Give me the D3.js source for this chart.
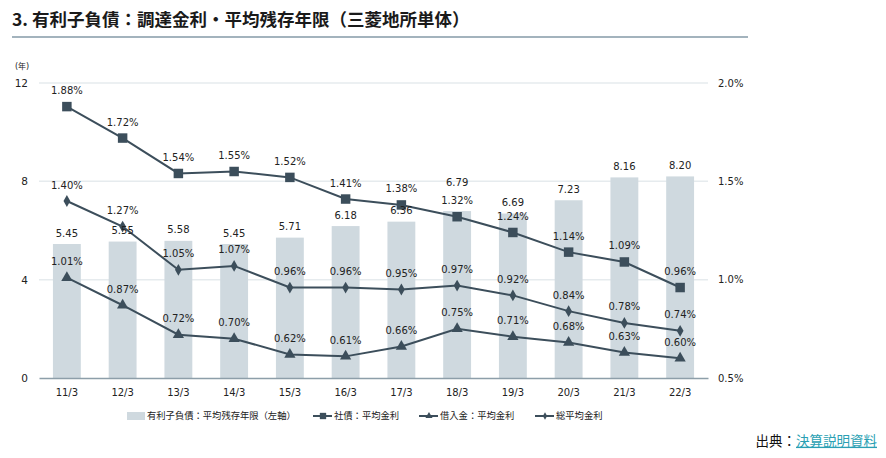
<!DOCTYPE html>
<html>
<head>
<meta charset="utf-8">
<script src="https://cdn.jsdelivr.net/npm/d3@7"></script>
<style>
  body { margin: 0; background: #fff; }
  text { font-family: "DejaVu Sans", "Noto Sans CJK JP", sans-serif; fill: #222; }
  .jp { font-family: "Noto Sans CJK JP", sans-serif; }
</style>
</head>
<body>
<script>
var categories = ["11/3", "12/3", "13/3", "14/3", "15/3", "16/3", "17/3", "18/3", "19/3", "20/3", "21/3", "22/3"];
var yearsLeft = [5.45, 5.55, 5.58, 5.45, 5.71, 6.18, 6.36, 6.79, 6.69, 7.23, 8.16, 8.20];
var bondRate = [1.88, 1.72, 1.54, 1.55, 1.52, 1.41, 1.38, 1.32, 1.24, 1.14, 1.09, 0.96];
var loanRate = [1.01, 0.87, 0.72, 0.70, 0.62, 0.61, 0.66, 0.75, 0.71, 0.68, 0.63, 0.60];
var totalRate = [1.40, 1.27, 1.05, 1.07, 0.96, 0.96, 0.95, 0.97, 0.92, 0.84, 0.78, 0.74];
var leftTicks = [0, 4, 8, 12];
var rightTicks = [0.5, 1.0, 1.5, 2.0];

var W = 886, H = 458;
var plotLeft = 39, plotRight = 708, plotTop = 83, plotBottom = 378;
var lineColor = "#3c4e5b";

var svg = d3.select("body").append("svg")
    .attr("width", W)
    .attr("height", H);

// title
svg.append("text")
    .attr("class", "jp")
    .attr("x", 12).attr("y", 26)
    .attr("font-size", 17.5)
    .attr("font-weight", "bold")
    .style("fill", "#1a1a1a")
    .text("3. 有利子負債：調達金利・平均残存年限（三菱地所単体）");
svg.append("line")
    .attr("x1", 12).attr("x2", 748)
    .attr("y1", 37).attr("y2", 37)
    .attr("stroke", "#a3b3bd")
    .attr("stroke-width", 2);

var x = d3.scaleBand()
    .domain(categories)
    .range([plotLeft, plotRight])
    .paddingInner(0.5)
    .paddingOuter(0.25);

var yL = d3.scaleLinear().domain([0, 12]).range([plotBottom, plotTop]);
var yR = d3.scaleLinear().domain([0.5, 2.0]).range([plotBottom, plotTop]);

function cx(c) { return x(c) + x.bandwidth() / 2; }

// grid
svg.append("g").selectAll("line")
    .data(leftTicks.slice(1))
    .join("line")
    .attr("x1", plotLeft).attr("x2", plotRight)
    .attr("y1", function(d) { return yL(d); })
    .attr("y2", function(d) { return yL(d); })
    .attr("stroke", "#e6ebee")
    .attr("stroke-width", 1.5);

// left axis
var axL = svg.append("g")
    .attr("transform", "translate(" + plotLeft + ",0)")
    .call(d3.axisLeft(yL).tickValues(leftTicks).tickSize(0).tickPadding(11));
axL.select(".domain").remove();
axL.selectAll("text").attr("font-size", 10.5).style("fill", "#222");

svg.append("text")
    .attr("x", 15).attr("y", 69)
    .attr("font-size", 8)
    .text("(年)");

// right axis
var axR = svg.append("g")
    .attr("transform", "translate(" + plotRight + ",0)")
    .call(d3.axisRight(yR).tickValues(rightTicks).tickSize(0).tickPadding(10)
        .tickFormat(function(d) { return d.toFixed(1) + "%"; }));
axR.select(".domain").remove();
axR.selectAll("text").attr("font-size", 10).style("fill", "#222");

// bars
svg.append("g").selectAll("rect")
    .data(yearsLeft)
    .join("rect")
    .attr("x", function(d, i) { return x(categories[i]); })
    .attr("width", x.bandwidth())
    .attr("y", function(d) { return yL(d); })
    .attr("height", function(d) { return plotBottom - yL(d); })
    .attr("fill", "#cfd9df");

// bottom axis
var axB = svg.append("g")
    .attr("transform", "translate(0," + plotBottom + ")")
    .call(d3.axisBottom(x).tickSize(0).tickPadding(11));
axB.select(".domain").attr("stroke", "#8d9ea9").attr("stroke-width", 1.5);
axB.selectAll("text").attr("font-size", 10).style("fill", "#222");

// lines
var series = [
    {name: "bond", values: bondRate, symbol: d3.symbolSquare, size: 90},
    {name: "total", values: totalRate, symbol: d3.symbolDiamond, size: 40},
    {name: "loan", values: loanRate, symbol: d3.symbolTriangle, size: 55}
];

var line = d3.line()
    .x(function(d, i) { return cx(categories[i]); })
    .y(function(d) { return yR(d); });

var lineLabelY = [];
series.forEach(function(s) {
    svg.append("path")
        .datum(s.values)
        .attr("fill", "none")
        .attr("stroke", lineColor)
        .attr("stroke-width", 2)
        .attr("d", line);
    svg.append("g").selectAll("path")
        .data(s.values)
        .join("path")
        .attr("transform", function(d, i) { return "translate(" + cx(categories[i]) + "," + yR(d) + ")"; })
        .attr("d", d3.symbol().type(s.symbol).size(s.size))
        .attr("fill", lineColor);
    svg.append("g").selectAll("text")
        .data(s.values)
        .join("text")
        .attr("x", function(d, i) { return cx(categories[i]); })
        .attr("y", function(d) { return yR(d) - 16; })
        .attr("dy", "0.35em")
        .attr("text-anchor", "middle")
        .attr("font-size", 10)
        .text(function(d) { return d.toFixed(2) + "%"; });
    s.values.forEach(function(d, i) {
        lineLabelY[i] = lineLabelY[i] || [];
        lineLabelY[i].push(yR(d) - 16);
    });
});

// bar labels, pushed above a line label when they would overlap
svg.append("g").selectAll("text")
    .data(yearsLeft)
    .join("text")
    .attr("x", function(d, i) { return cx(categories[i]); })
    .attr("y", function(d, i) {
        var ly = yL(d) - 11;
        lineLabelY[i].forEach(function(o) {
            if (Math.abs(o - ly) < 13) ly = o - 18;
        });
        return ly;
    })
    .attr("dy", "0.35em")
    .attr("text-anchor", "middle")
    .attr("font-size", 10)
    .text(function(d) { return d.toFixed(2); });

// legend
var lg = svg.append("g").attr("transform", "translate(0,416)");
lg.append("rect").attr("x", 127).attr("y", -4).attr("width", 18).attr("height", 8).attr("fill", "#cfd9df");
lg.append("text").attr("class", "jp").attr("x", 147).attr("y", 0).attr("dy", "0.35em")
    .attr("font-size", 9.3).text("有利子負債：平均残存年限（左軸）");

var legendItems = [
    {x: 313, label: "社債：平均金利", symbol: d3.symbolSquare, size: 40},
    {x: 419, label: "借入金：平均金利", symbol: d3.symbolTriangle, size: 22},
    {x: 535, label: "総平均金利", symbol: d3.symbolDiamond, size: 16}
];
legendItems.forEach(function(it) {
    lg.append("line").attr("x1", it.x).attr("x2", it.x + 19).attr("y1", 0).attr("y2", 0)
        .attr("stroke", lineColor).attr("stroke-width", 2);
    lg.append("path").attr("transform", "translate(" + (it.x + 10) + ",0)")
        .attr("d", d3.symbol().type(it.symbol).size(it.size)).attr("fill", lineColor);
    lg.append("text").attr("class", "jp").attr("x", it.x + 21).attr("y", 0).attr("dy", "0.35em")
        .attr("font-size", 9.3).text(it.label);
});

// source
var src = svg.append("text")
    .attr("class", "jp")
    .attr("x", 877).attr("y", 441)
    .attr("dy", "0.35em")
    .attr("text-anchor", "end")
    .attr("font-size", 13.5);
src.append("tspan").style("fill", "#111").text("出典：");
src.append("tspan").style("fill", "#2a9fb3").attr("text-decoration", "underline").text("決算説明資料");
</script>
</body>
</html>
